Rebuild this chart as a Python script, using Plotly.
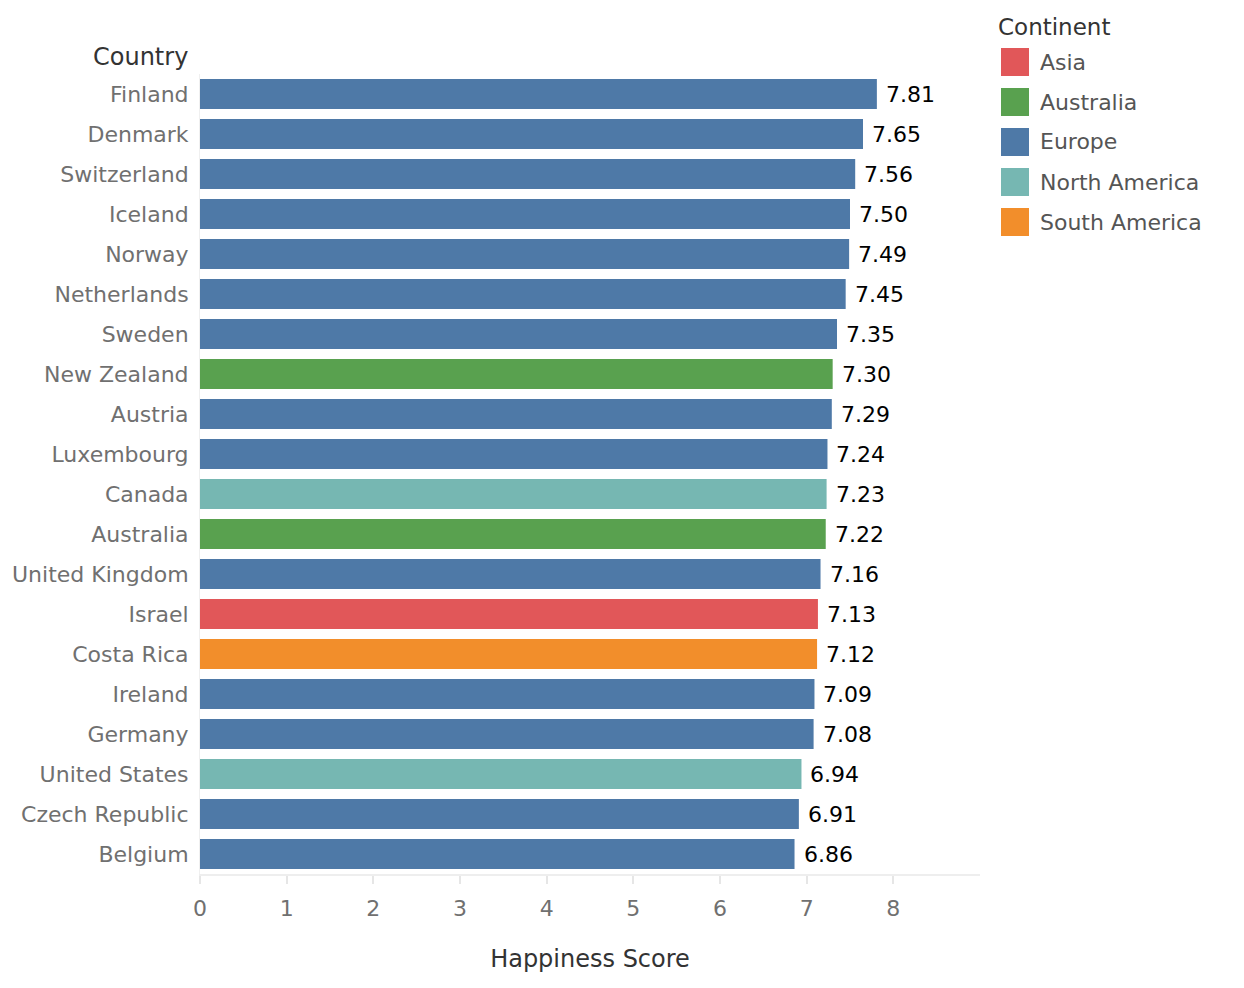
import plotly.graph_objects as go

countries = ["Finland", "Denmark", "Switzerland", "Iceland", "Norway", "Netherlands",
             "Sweden", "New Zealand", "Austria", "Luxembourg", "Canada", "Australia",
             "United Kingdom", "Israel", "Costa Rica", "Ireland", "Germany",
             "United States", "Czech Republic", "Belgium"]
scores = [7.81, 7.65, 7.56, 7.50, 7.49, 7.45, 7.35, 7.30, 7.29, 7.24, 7.23, 7.22,
          7.16, 7.13, 7.12, 7.09, 7.08, 6.94, 6.91, 6.86]
continent_of = ["Europe", "Europe", "Europe", "Europe", "Europe", "Europe",
                "Europe", "Australia", "Europe", "Europe", "North America", "Australia",
                "Europe", "Asia", "South America", "Europe", "Europe",
                "North America", "Europe", "Europe"]
continents = ["Asia", "Australia", "Europe", "North America", "South America"]
continent_colors = ["#e15759", "#59a14f", "#4e79a7", "#76b7b2", "#f28e2b"]
x_ticks = [0, 1, 2, 3, 4, 5, 6, 7, 8]

color_map = dict(zip(continents, continent_colors))
FONT = "DejaVu Sans"

W, H = 1228, 972
XOFF, YOFF = 8, 8  # page body margin
# plot area in screen pixels
L, R, T, B = 200, 980, 74, 874

fig = go.Figure()
fig.add_trace(go.Bar(
    x=scores, y=countries, orientation="h",
    marker=dict(color=[color_map[c] for c in continent_of], line=dict(width=0)),
    showlegend=False, hoverinfo="x+y",
))

annotations = []
for c, s in zip(countries, scores):
    annotations.append(dict(x=s, y=c, xref="x", yref="y", text=f"{s:.2f}",
                            showarrow=False, xanchor="left", xshift=7,
                            font=dict(family=FONT, size=22, color="#000000")))

def px(xp):
    return (xp - L) / (R - L)

def py(yp):
    return (B - yp) / (B - T)

annotations.append(dict(x=px(190), y=py(57), xref="paper", yref="paper", text="Country",
                        showarrow=False, xanchor="right", yanchor="middle",
                        font=dict(family=FONT, size=24, color="#333333")))
annotations.append(dict(x=px(996), y=py(27), xref="paper", yref="paper", text="Continent",
                        showarrow=False, xanchor="left", yanchor="middle",
                        font=dict(family=FONT, size=23, color="#333333")))

shapes = []
for i, (name, col) in enumerate(zip(continents, continent_colors)):
    cy = 62 + 40 * i
    shapes.append(dict(type="rect", xref="paper", yref="paper",
                       x0=px(1001), x1=px(1029), y0=py(cy + 14), y1=py(cy - 14),
                       fillcolor=col, line=dict(width=0)))
    annotations.append(dict(x=px(1038), y=py(cy), xref="paper", yref="paper", text=name,
                            showarrow=False, xanchor="left", yanchor="middle",
                            font=dict(family=FONT, size=22, color="#555555")))

fig.update_layout(
    width=W, height=H,
    margin=dict(l=L - XOFF, r=W - (R - XOFF), t=T - YOFF, b=H - (B - YOFF), pad=0,
                autoexpand=False),
    paper_bgcolor="white", plot_bgcolor="white",
    bargap=0.25,
    font=dict(family=FONT, color="#707070"),
    annotations=annotations, shapes=shapes,
    xaxis=dict(range=[0, 9], tickvals=x_ticks, showgrid=False, zeroline=False,
               automargin=False,
               showline=True, linecolor="#eeeeee", linewidth=2,
               ticks="outside", ticklen=8, tickcolor="#e6e6e6", tickwidth=2,
               ticklabelstandoff=6,
               tickfont=dict(family=FONT, size=22, color="#707070"),
               title=dict(text="Happiness Score", standoff=30,
                          font=dict(family=FONT, size=24, color="#333333"))),
    yaxis=dict(categoryorder="array", categoryarray=countries, autorange="reversed",
               automargin=False,
               showgrid=False, zeroline=False, showline=True, linecolor="#f0f0f0",
               linewidth=1, ticks="", ticklabelstandoff=6,
               tickfont=dict(family=FONT, size=22, color="#707070")),
)

fig.write_html("out.html")
